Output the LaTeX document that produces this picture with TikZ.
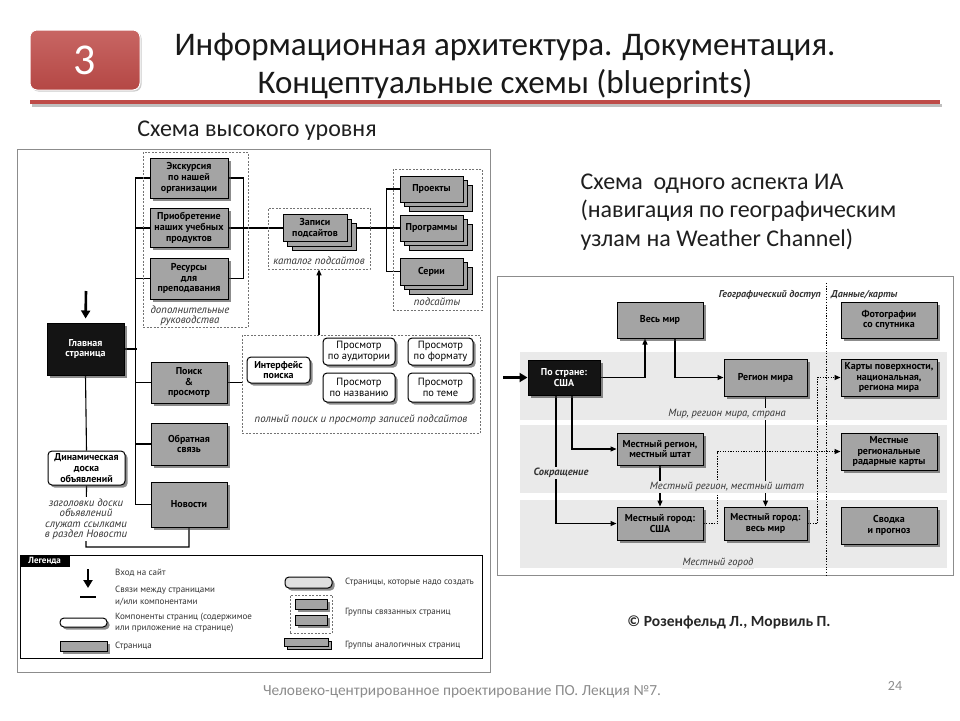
\documentclass[tikz,border=0pt]{standalone}
\usepackage{fontspec}
\setmainfont{Carlito}
\newfontfamily\dgfont{PT Sans}
\usetikzlibrary{arrows.meta,shadows,positioning,backgrounds}
\definecolor{pagegray}{HTML}{A4A4A4}
\definecolor{bandgray}{HTML}{EAEAEA}
\definecolor{slidered}{HTML}{BE4B48}
\definecolor{framegray}{HTML}{8C8C8C}
\pgfdeclarelayer{bands}
\pgfdeclarelayer{edges}
\pgfsetlayers{bands,edges,main}
\tikzset{
  pagebox/.style={draw=black, line width=1pt, fill=pagegray, align=center, inner sep=1pt,
    font=\dgfont\bfseries\fontsize{10}{10.8}\selectfont,
    drop shadow={shadow xshift=2.5pt, shadow yshift=-2.5pt, fill=black!75, opacity=0.6}},
  homebox/.style={pagebox, fill=black!92, text=white},
  compbox/.style={pagebox, fill=white, rounded corners=4pt},
  browsebox/.style={compbox, font=\dgfont\fontsize{10.5}{11}\selectfont},
  rbox/.style={pagebox, font=\dgfont\bfseries\fontsize{10}{10.5}\selectfont},
  stackbox/.style={draw=black, line width=1pt, fill=pagegray, align=center, inner sep=1pt,
    font=\dgfont\bfseries\fontsize{10}{10.8}\selectfont,
    copy shadow={shadow xshift=9pt, shadow yshift=-9pt, fill=pagegray, draw=black, line width=1pt},
    copy shadow={shadow xshift=4.5pt, shadow yshift=-4.5pt, fill=pagegray, draw=black, line width=1pt}},
  groupbox/.style={draw=black!55, line width=0.7pt, dash pattern=on 2pt off 1.5pt},
  note/.style={font=\dgfont\itshape\fontsize{10.8}{10.5}\selectfont, align=center, inner sep=1pt, text=black!80},
  rnote/.style={note, fill=bandgray, font=\dgfont\itshape\fontsize{10.5}{11}\selectfont},
  link/.style={line width=1.1pt},
  arr/.style={link, -{Triangle[length=6pt,width=5pt]}},
  dots/.style={arr, dash pattern=on 1.3pt off 1.3pt},
  entryarr/.style={line width=2.6pt, -{Triangle[length=8pt,width=9pt]}},
  legtext/.style={font=\dgfont\fontsize{9}{11.5}\selectfont, align=left, anchor=west, inner sep=0pt, text=black!80},
}
\begin{document}
\begin{tikzpicture}[x={(1pt,0pt)}, y={(0pt,-1pt)}]
\useasboundingbox (0,0) rectangle (960,720);
\begin{pgfonlayer}{bands}
\fill[white] (0,0) rectangle (960,720);
\end{pgfonlayer}
% slide header
\node[rounded corners=7pt, top color=slidered!85, bottom color=slidered!95!black, draw=white, line width=1pt,
  minimum width=110, minimum height=60, text=white, font=\fontsize{44}{44}\selectfont,
  drop shadow={shadow xshift=1.5pt, shadow yshift=-1.5pt, fill=black!40, opacity=0.5}] (num) at (85,60) {3};
\node[align=center, text=black!90, font=\fontsize{33}{38}\selectfont] (title) at (505,66)
  {Информационная архитектура. Документация.\\Концептуальные схемы (blueprints)};
\draw[line width=3pt, black!25] (32,105) -- (942,105);
\draw[line width=4pt, slidered] (30,102) -- (940,102);
\node[font=\fontsize{24}{28}\selectfont, text=black!88] (hlcap) at (257,131) {Схема высокого уровня};
\node[font=\fontsize{24}{28.5}\selectfont, text=black!88, align=left, anchor=north west] (aspcap) at (577,170)
  {Схема\ \ одного аспекта ИА\\(навигация по географическим\\узлам на Weather Channel)};
\node[font=\bfseries\fontsize{15.5}{18}\selectfont, text=black!85] (credit) at (729,622) {© Розенфельд Л., Морвиль П.};
\node[font=\fontsize{15.4}{17}\selectfont, text=black!45] (footer) at (462,692)
  {Человеко-центрированное проектирование ПО. Лекция №7.};
\node[font=\fontsize{14}{16}\selectfont, text=black!45] (pagenum) at (895,686) {24};

% high level blueprint
\draw[framegray, line width=1pt] (17,149) rectangle (490,672);
\node[groupbox, minimum width=105, minimum height=175] (gextra) at (195.5,239.5) {};
\node[groupbox, minimum width=102, minimum height=61] (gcatalog) at (319,238.5) {};
\node[groupbox, minimum width=89, minimum height=141] (gsub) at (437.5,239.5) {};
\node[groupbox, minimum width=238, minimum height=98] (gsearch) at (361,384) {};
\node[pagebox, minimum width=78, minimum height=40] (excursion) at (189,178) {Экскурсия\\по нашей\\организации};
\node[pagebox, minimum width=78, minimum height=39] (purchase) at (189,228) {Приобретение\\наших учебных\\продуктов};
\node[pagebox, minimum width=78, minimum height=41] (resources) at (189,278.5) {Ресурсы\\для\\преподавания};
\node[note] (extranote) at (190,316) {дополнительные\\руководства};
\node[stackbox, minimum width=64, minimum height=27] (records) at (315,228) {Записи\\подсайтов};
\node[note] (catnote) at (319,261) {каталог подсайтов};
\node[stackbox, minimum width=63, minimum height=26] (projects) at (431.5,189) {Проекты};
\node[stackbox, minimum width=63, minimum height=26] (programs) at (431.5,228) {Программы};
\node[stackbox, minimum width=63, minimum height=27] (series) at (431.5,271.5) {Серии};
\node[note] (subnote) at (437,302) {подсайты};
\node[homebox, minimum width=77, minimum height=52] (main) at (85.5,349) {Главная\\страница};
\node[pagebox, minimum width=76, minimum height=41] (search) at (189,382.5) {Поиск\\\&\\просмотр};
\node[pagebox, minimum width=76, minimum height=42] (feedback) at (189,444) {Обратная\\связь};
\node[pagebox, minimum width=76, minimum height=45] (news) at (189,504.5) {Новости};
\node[compbox, minimum width=77, minimum height=34] (board) at (86.5,468) {Динамическая\\доска\\объявлений};
\node[note, fill=white] (boardnote) at (86,519) {заголовки доски\\объявлений\\служат ссылками\\в раздел Новости};
\node[compbox, minimum width=63, minimum height=26] (iface) at (278.5,370) {Интерфейс\\поиска};
\node[browsebox, minimum width=72, minimum height=27] (baud) at (359,351.5) {Просмотр\\по аудитории};
\node[browsebox, minimum width=65, minimum height=27] (bfmt) at (440.5,351.5) {Просмотр\\по формату};
\node[browsebox, minimum width=72, minimum height=29] (bname) at (359,387.5) {Просмотр\\по названию};
\node[browsebox, minimum width=65, minimum height=29] (btopic) at (440.5,387.5) {Просмотр\\по теме};
\node[note] (searchnote) at (361,420) {полный поиск и просмотр записей подсайтов};
\coordinate (hlentry) at (86,291);
\coordinate (boardturn) at (86,547);
\begin{pgfonlayer}{edges}
\draw[entryarr, shorten >=4pt] (hlentry) -- (main.north);
\draw[link] (main.east) -- ++(12,0);
\draw[link] (excursion.west) -- ++(-14,0) coordinate (bus) |- (news.west);
\draw[link] (purchase.west) -- (purchase.west -| bus);
\draw[link] (resources.west) -- (resources.west -| bus);
\draw[link] (search.west) -- (search.west -| bus);
\draw[link] (feedback.west) -- (feedback.west -| bus);
\draw[link] (excursion.east) -- ++(15,0) |- (resources.east);
\draw[link] (purchase.east) -- (records.west);
\draw[link] (records.east) -- (programs.west);
\draw[link] (projects.west) -- ++(-13,0) |- (series.west);
\draw[link] (search.east) -- (search.east -| gsearch.west);
\draw[arr] (gcatalog.south |- gsearch.north) -- (gcatalog.south);
\draw[link] (main.south) -- (board.north);
\draw[link] (board.south) -- (boardturn) -| (news.south);
\end{pgfonlayer}

% legend
\node[draw, line width=1pt, minimum width=462, minimum height=103, inner sep=0pt] (legend) at (251,606.5) {};
\node[fill=black, text=white, font=\dgfont\bfseries\fontsize{9}{9}\selectfont, anchor=north west,
  inner sep=2pt, minimum width=50, minimum height=12] (legtab) at (legend.north west) {Легенда};
\coordinate (lgatop) at (88,569);
\coordinate (lgabot) at (88,588);
\coordinate (lgdl) at (80,597);
\coordinate (lgdr) at (96,597);
\draw[entryarr] (lgatop) -- (lgabot);
\draw[line width=2.4pt] (lgdl) -- (lgdr);
\node[compbox, minimum width=47, minimum height=9] (lgcomp) at (83.5,622.5) {};
\node[pagebox, minimum width=47, minimum height=10] (lgpage) at (83.5,646) {};
\node[legtext] at (115,573) {Вход на сайт};
\node[legtext] at (115,596) {Связи между страницами\\и/или компонентами};
\node[legtext] at (115,623) {Компоненты страниц (содержимое\\или приложение на странице)};
\node[legtext] at (115,646) {Страница};
\node[compbox, fill=black!12, minimum width=47, minimum height=11] (lgnew) at (308.5,582.5) {};
\node[groupbox, minimum width=42, minimum height=38] (lggroup) at (311,614) {};
\node[pagebox, minimum width=32, minimum height=10] (lgga) at (311,604) {};
\node[pagebox, minimum width=32, minimum height=10] (lggb) at (311,620) {};
\node[draw=black, line width=1pt, fill=pagegray, minimum width=44, minimum height=8,
  copy shadow={shadow xshift=3pt, shadow yshift=-3pt, fill=pagegray, draw=black}] (lgstack) at (306,642) {};
\node[legtext] at (345,582) {Страницы, которые надо создать};
\node[legtext] at (345,612) {Группы связанных страниц};
\node[legtext] at (345,645) {Группы аналогичных страниц};

% one aspect blueprint
\draw[framegray, line width=1pt] (497,276) rectangle (953,575);
\begin{pgfonlayer}{bands}
\fill[bandgray] (520,352) rectangle (947,420);
\fill[bandgray] (520,425) rectangle (947,493);
\fill[bandgray] (520,500) rectangle (947,568);
\end{pgfonlayer}
\draw[dash pattern=on 1.2pt off 1.5pt, line width=0.8pt] (826,283) -- (826,575);
\node[note, font=\dgfont\bfseries\itshape\fontsize{10}{10}\selectfont, anchor=east] (geocap) at (822,295) {Географический доступ};
\node[note, font=\dgfont\bfseries\itshape\fontsize{10}{10}\selectfont, anchor=west] (datacap) at (830,295) {Данные/карты};
\node[rbox, minimum width=86, minimum height=36] (world) at (660,320) {Весь мир};
\node[homebox, font=\dgfont\bfseries\fontsize{10}{10.5}\selectfont, minimum width=72, minimum height=35] (country) at (564,377.5) {По стране:\\США};
\node[rbox, minimum width=83, minimum height=37] (region) at (765.5,377.5) {Регион мира};
\node[rbox, minimum width=96, minimum height=36] (photos) at (889,320) {Фотографии\\со спутника};
\node[rbox, minimum width=96, minimum height=37] (surface) at (889,377.5) {Карты поверхности,\\национальная,\\региона мира};
\node[rbox, minimum width=86, minimum height=32] (locreg) at (660,449) {Местный регион,\\местный штат};
\node[rbox, minimum width=86, minimum height=33] (citus) at (660,523.5) {Местный город:\\США};
\node[rbox, minimum width=83, minimum height=33] (cityworld) at (765.5,523.5) {Местный город:\\весь мир};
\node[rbox, minimum width=96, minimum height=37] (radar) at (889,451.5) {Местные\\региональные\\радарные карты};
\node[rbox, minimum width=96, minimum height=37] (summary) at (889,525.5) {Сводка\\и прогноз};
\node[rnote] (worldnote) at (727,414) {Мир, регион мира, страна};
\node[rnote] (regnote) at (727,487) {Местный регион, местный штат};
\node[rnote] (citynote) at (718,563) {Местный город};
\node[rnote, font=\dgfont\bfseries\itshape\fontsize{10.5}{11}\selectfont] (shortcut) at (561,473) {Сокращение};
\coordinate (rentry) at (503,377.5);
\begin{pgfonlayer}{edges}
\draw[entryarr] (rentry) -- (country.west);
\draw[arr] (country.east) -| ([xshift=-15pt]world.south);
\draw[arr] ([xshift=15pt]world.south) |- (region.west);
\draw[arr] ([xshift=8pt]country.south) |- (locreg.west);
\draw[arr] ([xshift=-8pt]country.south) |- (citus.west);
\draw[arr] (locreg.south) -- (citus.north);
\draw[arr] (region.south) -- (cityworld.north);
\draw[dots] (citus.east) -- ++(14,0) |- (radar.west);
\draw[dots] (cityworld.east) -- ++(10,0) |- (surface.west);
\end{pgfonlayer}
\end{tikzpicture}
\end{document}
